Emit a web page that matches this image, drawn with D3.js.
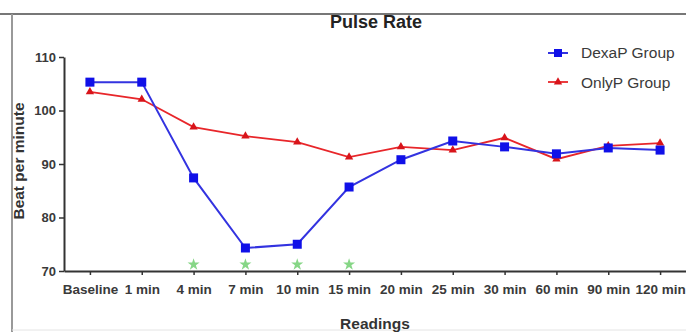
<!DOCTYPE html>
<html>
<head>
<meta charset="utf-8">
<script src="https://cdn.jsdelivr.net/npm/d3@7"></script>
<style>
  body { margin: 0; background: #fff; }
  svg { display: block; font-family: "Liberation Sans", Arial, sans-serif; }
</style>
</head>
<body>
<div class="chart"></div>
<script>
const readings = ["Baseline", "1 min", "4 min", "7 min", "10 min", "15 min", "20 min", "25 min", "30 min", "60 min", "90 min", "120 min"];
const dexaP = [105.3, 105.3, 87.4, 74.3, 75.0, 85.7, 90.8, 94.3, 93.2, 91.9, 93.0, 92.6];
const onlyP = [103.5, 102.1, 96.9, 95.2, 94.1, 91.3, 93.2, 92.6, 94.9, 90.9, 93.4, 93.9];
const significant = ["4 min", "7 min", "10 min", "15 min"];
const yTicks = [70, 80, 90, 100, 110];

let margin = { top: 57, right: 0, bottom: 61, left: 64 };
let width = 686 - margin.left - margin.right;
let height = 332 - margin.top - margin.bottom;

let root = d3.select(".chart").append("svg").attr("width", 686).attr("height", 332);

// frame lines of the original figure
root.append("line").attr("x1", 0).attr("x2", 686).attr("y1", 14).attr("y2", 14)
  .style("stroke", "#777").style("stroke-width", 2);
root.append("line").attr("x1", 12).attr("x2", 12).attr("y1", 14).attr("y2", 332)
  .style("stroke", "#999").style("stroke-width", 2);
root.append("line").attr("x1", 12).attr("x2", 686).attr("y1", 330).attr("y2", 330)
  .style("stroke", "#e4e4e4").style("stroke-width", 1);

let svg = root.append("g").attr("transform", `translate(${margin.left}, ${margin.top})`);

const xScale = d3.scalePoint().domain(readings).range([0, width]).padding(0.5);
const yScale = d3.scaleLinear().domain([70, 110]).range([height, 0]);

const xAxis = svg.append("g")
  .attr("transform", `translate(0, ${height})`)
  .call(d3.axisBottom(xScale).tickSize(4).tickSizeOuter(0).tickPadding(9));
const yAxis = svg.append("g")
  .call(d3.axisLeft(yScale).tickValues(yTicks).tickSize(5).tickSizeOuter(0).tickPadding(3));

[xAxis, yAxis].forEach(a => {
  a.select(".domain").style("stroke", "#333").style("stroke-width", 2);
  a.selectAll(".tick line").style("stroke", "#333").style("stroke-width", 1.5);
  a.selectAll("text").style("font-size", "13.5px").style("font-weight", "bold").style("fill", "#3a3a3a");
});
yAxis.selectAll("text").style("font-size", "13px");

// significance markers
svg.selectAll(".sig")
  .data(significant)
  .enter()
  .append("path")
  .attr("class", "sig")
  .attr("transform", d => `translate(${xScale(d)}, ${yScale(71.2)})`)
  .attr("d", d3.symbol(d3.symbolStar, 45))
  .style("fill", "#86d686");

const line = d3.line().x((d, i) => xScale(readings[i])).y(d => yScale(d));

svg.append("path").datum(onlyP).attr("d", line)
  .style("fill", "none").style("stroke", "#e8262a").style("stroke-width", 1.8);
svg.selectAll(".tri")
  .data(onlyP)
  .enter()
  .append("path")
  .attr("class", "tri")
  .attr("transform", (d, i) => `translate(${xScale(readings[i])}, ${yScale(d)})`)
  .attr("d", d3.symbol(d3.symbolTriangle, 30))
  .style("fill", "#d8141a");

svg.append("path").datum(dexaP).attr("d", line)
  .style("fill", "none").style("stroke", "#3333e0").style("stroke-width", 2);
svg.selectAll(".sq")
  .data(dexaP)
  .enter()
  .append("rect")
  .attr("class", "sq")
  .attr("x", (d, i) => xScale(readings[i]) - 4.5)
  .attr("y", d => yScale(d) - 4.5)
  .attr("width", 9)
  .attr("height", 9)
  .style("fill", "#1010e8");

// legend
const legend = root.append("g").attr("transform", "translate(548, 0)");
legend.append("line").attr("x1", 0).attr("x2", 20).attr("y1", 53).attr("y2", 53)
  .style("stroke", "#3333e0").style("stroke-width", 2);
legend.append("rect").attr("x", 6).attr("y", 49).attr("width", 8).attr("height", 8).style("fill", "#1010e8");
legend.append("text").attr("x", 33).attr("y", 58).text("DexaP Group")
  .style("font-size", "15.5px").style("fill", "#3a3a3a");
legend.append("line").attr("x1", 0).attr("x2", 20).attr("y1", 82).attr("y2", 82)
  .style("stroke", "#e8262a").style("stroke-width", 1.8);
legend.append("path").attr("transform", "translate(10, 82)")
  .attr("d", d3.symbol(d3.symbolTriangle, 30)).style("fill", "#d8141a");
legend.append("text").attr("x", 33).attr("y", 88).text("OnlyP Group")
  .style("font-size", "15.5px").style("fill", "#3a3a3a");

// titles
root.append("text").attr("x", 376).attr("y", 28).attr("text-anchor", "middle")
  .text("Pulse Rate").style("font-size", "18px").style("font-weight", "bold").style("fill", "#222");
root.append("text").attr("x", 375).attr("y", 329).attr("text-anchor", "middle")
  .text("Readings").style("font-size", "15.5px").style("font-weight", "bold").style("fill", "#333");
root.append("text").attr("transform", "translate(24, 161) rotate(-90)").attr("text-anchor", "middle")
  .text("Beat per minute").style("font-size", "15.5px").style("font-weight", "bold").style("fill", "#333");
</script>
</body>
</html>
